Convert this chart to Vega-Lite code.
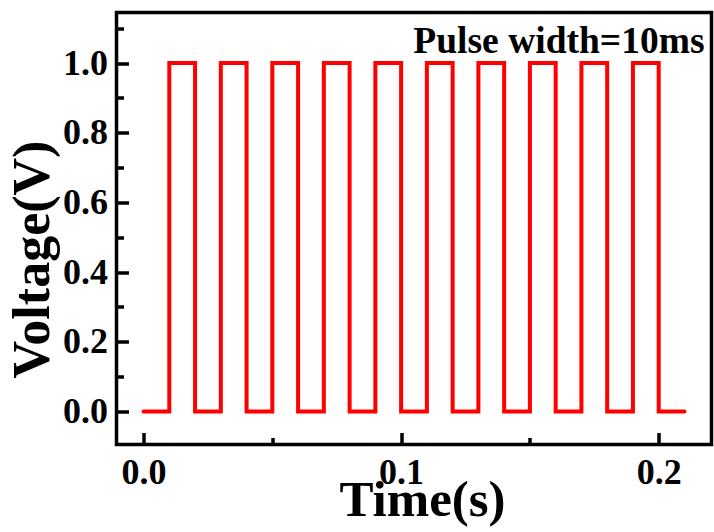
{
  "$schema": "https://vega.github.io/schema/vega-lite/v6.json",
  "width": 595,
  "height": 432,
  "autosize": "none",
  "padding": {"left": 116.5, "top": 12.5, "right": 2.5, "bottom": 87.5},
  "background": "white",
  "config": {"view": {"stroke": "black", "strokeWidth": 3.5}, "font": "Liberation Serif"},
  "data": {"values": [
    {"t": 0, "v": 0}, {"t": 0.01, "v": 1}, {"t": 0.02, "v": 0}, {"t": 0.03, "v": 1},
    {"t": 0.04, "v": 0}, {"t": 0.05, "v": 1}, {"t": 0.06, "v": 0}, {"t": 0.07, "v": 1},
    {"t": 0.08, "v": 0}, {"t": 0.09, "v": 1}, {"t": 0.10, "v": 0}, {"t": 0.11, "v": 1},
    {"t": 0.12, "v": 0}, {"t": 0.13, "v": 1}, {"t": 0.14, "v": 0}, {"t": 0.15, "v": 1},
    {"t": 0.16, "v": 0}, {"t": 0.17, "v": 1}, {"t": 0.18, "v": 0}, {"t": 0.19, "v": 1},
    {"t": 0.20, "v": 0}, {"t": 0.21, "v": 0}
  ]},
  "layer": [
    {
      "mark": {"type": "line", "color": "#ff0000", "strokeWidth": 4, "interpolate": "step-after", "strokeCap": "round"},
      "encoding": {
        "x": {"field": "t", "type": "quantitative",
          "scale": {"domain": [-0.0105, 0.2205], "nice": false, "zero": false},
          "axis": {"orient": "bottom", "values": [0, 0.1, 0.2], "format": ".1f", "tickSize": -12, "tickWidth": 3.5,
            "tickColor": "black", "domain": false, "grid": false, "labelFont": "Liberation Serif", "labelFontWeight": "bold",
            "labelFontSize": 36, "labelColor": "black", "labelPadding": 23, "labelFlush": false,
            "title": "Time(s)", "titleFont": "Liberation Serif", "titleFontSize": 51, "titleFontWeight": "bold",
            "titleColor": "black", "titleX": 305.5, "titleY": 71, "titleBaseline": "alphabetic", "titleAlign": "center"}},
        "y": {"field": "v", "type": "quantitative",
          "scale": {"domain": [-0.095, 1.145], "nice": false, "zero": false},
          "axis": {"orient": "left", "values": [0, 0.2, 0.4, 0.6, 0.8, 1], "format": ".1f", "tickSize": -12, "tickWidth": 3.5,
            "tickColor": "black", "domain": false, "grid": false, "labelFont": "Liberation Serif", "labelFontWeight": "bold",
            "labelFontSize": 36, "labelColor": "black", "labelPadding": 21, "labelFlush": false,
            "title": "Voltage(V)", "titleFont": "Liberation Serif", "titleFontSize": 52, "titleFontWeight": "bold",
            "titleColor": "black", "titleX": -68, "titleY": 246.5, "titleBaseline": "alphabetic", "titleAlign": "center", "titleAngle": -90}}
      }
    },
    {
      "mark": {"type": "line", "color": "#ff0000", "strokeWidth": 4, "interpolate": "step-after", "opacity": 0},
      "encoding": {
        "x": {"field": "t", "type": "quantitative",
          "axis": {"orient": "bottom", "values": [0.05, 0.15], "tickSize": -7, "tickWidth": 3.5, "tickColor": "black",
            "domain": false, "grid": false, "labels": false, "title": null}},
        "y": {"field": "v", "type": "quantitative",
          "axis": {"orient": "left", "values": [0.1, 0.3, 0.5, 0.7, 0.9, 1.1], "tickSize": -7, "tickWidth": 3.5, "tickColor": "black",
            "domain": false, "grid": false, "labels": false, "title": null}}
      }
    },
    {
      "data": {"values": [{"x": 0.2178, "y": 1.03, "label": "Pulse width=10ms"}]},
      "mark": {"type": "text", "align": "right", "baseline": "alphabetic", "font": "Liberation Serif", "fontSize": 37.5, "fontWeight": "bold", "color": "black"},
      "encoding": {
        "x": {"field": "x", "type": "quantitative", "axis": null},
        "y": {"field": "y", "type": "quantitative", "axis": null},
        "text": {"field": "label"}
      }
    }
  ],
  "resolve": {"axis": {"x": "independent", "y": "independent"}}
}
